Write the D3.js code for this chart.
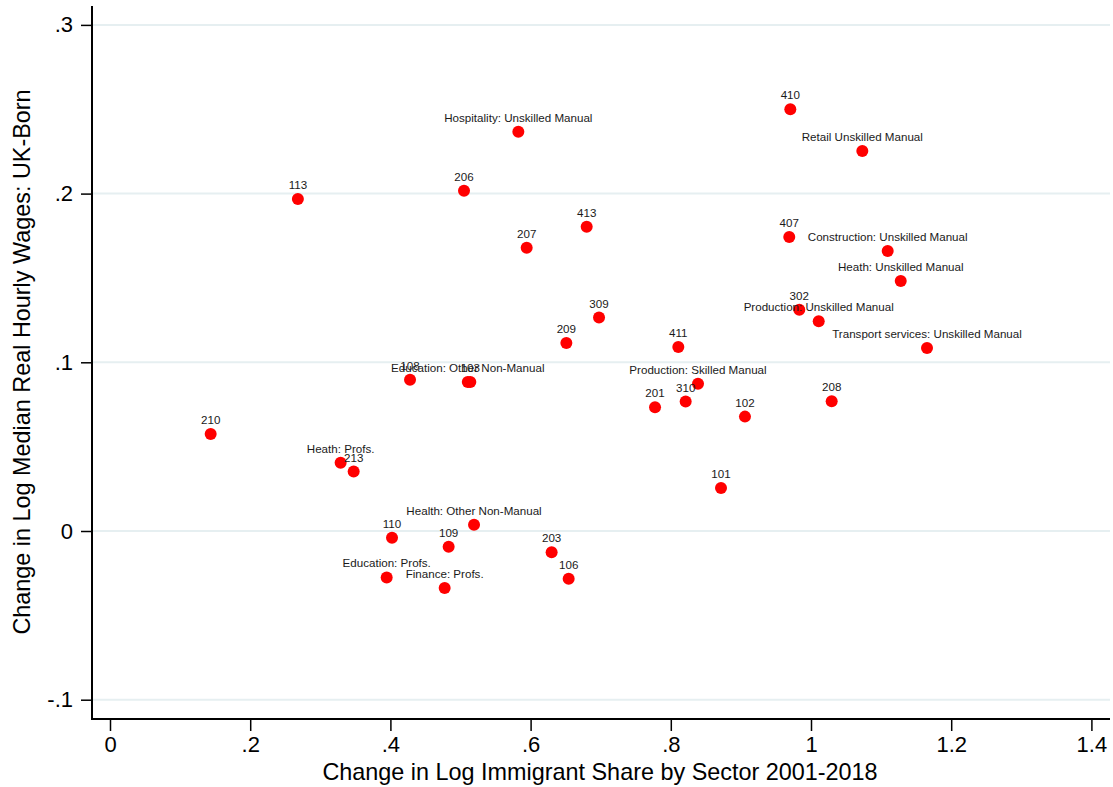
<!DOCTYPE html>
<html>
<head>
<meta charset="utf-8">
<script src="https://cdn.jsdelivr.net/npm/d3@7"></script>
<style>
  html, body { margin: 0; padding: 0; background: #fff; }
  svg { display: block; }
</style>
</head>
<body>
<svg id="chart" width="1113" height="787"></svg>
<script>
// ---- Data ----
const pointLabels = [
  "113", "Hospitality: Unskilled Manual", "206", "207", "413",
  "410", "Retail Unskilled Manual", "407", "Construction: Unskilled Manual", "Heath: Unskilled Manual",
  "309", "209", "108", "Education: Other Non-Manual", "103",
  "201", "411", "302", "Production: Unskilled Manual", "Transport services: Unskilled Manual",
  "Production: Skilled Manual", "310", "102", "208", "101",
  "210", "Heath: Profs.", "213", "110", "Health: Other Non-Manual",
  "109", "203", "106", "Education: Profs.", "Finance: Profs."
];
const immigrantShareChange = [
  0.268, 0.5825, 0.505, 0.5944, 0.680,
  0.9705, 1.0732, 0.969, 1.1094, 1.128,
  0.6976, 0.651, 0.428, 0.5104, 0.5140,
  0.7775, 0.8107, 0.9833, 1.011, 1.1655,
  0.8388, 0.8212, 0.9058, 1.0295, 0.8716,
  0.1436, 0.329, 0.3476, 0.4023, 0.5193,
  0.4831, 0.630, 0.6543, 0.3947, 0.4774
];
const wageChange = [
  0.1968, 0.2367, 0.2017, 0.1679, 0.1804,
  0.2500, 0.2253, 0.1743, 0.1660, 0.1482,
  0.1265, 0.1114, 0.0897, 0.0883, 0.0883,
  0.0733, 0.1091, 0.1312, 0.1243, 0.1085,
  0.0873, 0.0767, 0.0678, 0.0769, 0.0255,
  0.0575, 0.0405, 0.0352, -0.0040, 0.0037,
  -0.0093, -0.0126, -0.0283, -0.0275, -0.0338
];
const xTickValues = [0, 0.2, 0.4, 0.6, 0.8, 1.0, 1.2, 1.4];
const xTickLabels = ["0", ".2", ".4", ".6", ".8", "1", "1.2", "1.4"];
const yTickValues = [-0.1, 0, 0.1, 0.2, 0.3];
const yTickLabels = ["-.1", "0", ".1", ".2", ".3"];
const xTitle = "Change in Log Immigrant Share by Sector 2001-2018";
const yTitle = "Change in Log Median Real Hourly Wages: UK-Born";

// ---- Layout ----
const plotLeft = 92, plotRight = 1110, plotTop = 6, plotBottom = 719;
const svg = d3.select("#chart");
const FONT = "'Liberation Sans', Arial, Helvetica, sans-serif";

const x = d3.scaleLinear().domain([-0.02568, 1.42653]).range([plotLeft, plotRight]);
const y = d3.scaleLinear().domain([-0.11144, 0.31120]).range([plotBottom, plotTop]);

// Gridlines
svg.append("g")
  .selectAll("line")
  .data(yTickValues)
  .join("line")
  .attr("x1", plotLeft)
  .attr("x2", plotRight)
  .attr("y1", d => y(d))
  .attr("y2", d => y(d))
  .attr("stroke", "#e6eff1")
  .attr("stroke-width", 2);

// Y axis
const yAxis = d3.axisLeft(y)
  .tickValues(yTickValues)
  .tickFormat((d, i) => yTickLabels[i])
  .tickSize(11)
  .tickPadding(8)
  .tickSizeOuter(0);
const gy = svg.append("g").attr("transform", `translate(${plotLeft},0)`).call(yAxis);
gy.select(".domain").remove();
gy.selectAll(".tick line").attr("stroke", "#000").attr("stroke-width", 1.5);
gy.selectAll(".tick text").attr("font-family", FONT).attr("font-size", 22).attr("fill", "#000");

// X axis
const xAxis = d3.axisBottom(x)
  .tickValues(xTickValues)
  .tickFormat((d, i) => xTickLabels[i])
  .tickSize(12)
  .tickPadding(5)
  .tickSizeOuter(0);
const gx = svg.append("g").attr("transform", `translate(0,${plotBottom})`).call(xAxis);
gx.select(".domain").remove();
gx.selectAll(".tick line").attr("stroke", "#000").attr("stroke-width", 1.5);
gx.selectAll(".tick text").attr("font-family", FONT).attr("font-size", 22).attr("fill", "#000");

// Axis lines
svg.append("line")
  .attr("x1", plotLeft).attr("x2", plotLeft)
  .attr("y1", plotTop).attr("y2", plotBottom)
  .attr("stroke", "#000").attr("stroke-width", 2);
svg.append("line")
  .attr("x1", plotLeft - 1).attr("x2", plotRight)
  .attr("y1", plotBottom).attr("y2", plotBottom)
  .attr("stroke", "#000").attr("stroke-width", 2);

// Points
const pts = pointLabels.map((lab, i) => ({ lab, xv: immigrantShareChange[i], yv: wageChange[i] }));

svg.append("g")
  .selectAll("circle")
  .data(pts)
  .join("circle")
  .attr("cx", d => x(d.xv))
  .attr("cy", d => y(d.yv))
  .attr("r", 6)
  .attr("fill", "#ff0000");

svg.append("g")
  .selectAll("text")
  .data(pts)
  .join("text")
  .attr("x", d => x(d.xv))
  .attr("y", d => y(d.yv) - 10)
  .attr("text-anchor", "middle")
  .attr("font-family", FONT)
  .attr("font-size", 11.6)
  .attr("fill", "#1a1a1a")
  .text(d => d.lab);

// Titles
svg.append("text")
  .attr("x", 600)
  .attr("y", 780)
  .attr("text-anchor", "middle")
  .attr("font-family", FONT)
  .attr("font-size", 23.4)
  .attr("fill", "#000")
  .text(xTitle);

svg.append("text")
  .attr("transform", `translate(30,362) rotate(-90)`)
  .attr("text-anchor", "middle")
  .attr("font-family", FONT)
  .attr("font-size", 23.4)
  .attr("fill", "#000")
  .text(yTitle);
</script>
</body>
</html>
